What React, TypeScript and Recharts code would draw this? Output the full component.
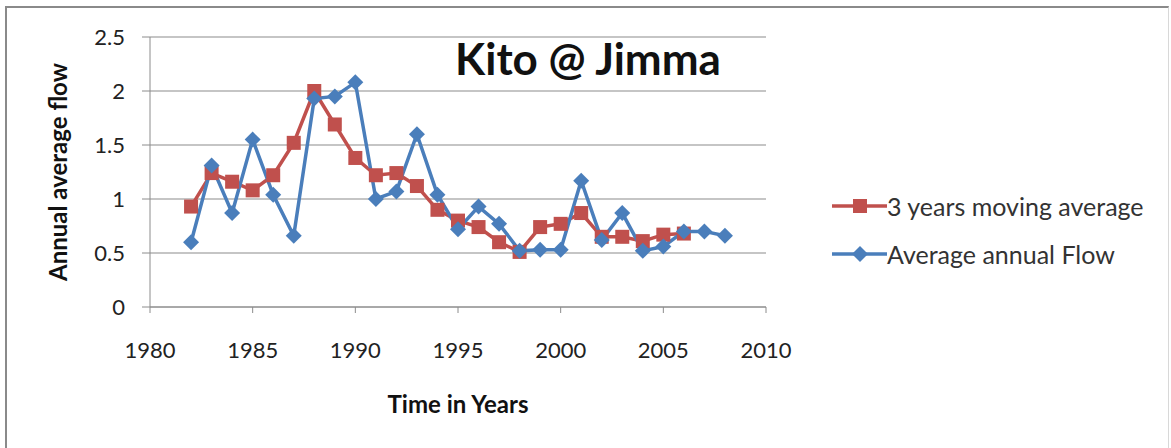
import React from "react";
import { LineChart, Line, XAxis, YAxis, CartesianGrid, Legend } from "recharts";

const years = [1982, 1983, 1984, 1985, 1986, 1987, 1988, 1989, 1990, 1991, 1992, 1993, 1994, 1995, 1996, 1997, 1998, 1999, 2000, 2001, 2002, 2003, 2004, 2005, 2006, 2007, 2008];
const averageAnnualFlow = [0.6, 1.31, 0.87, 1.55, 1.04, 0.66, 1.93, 1.95, 2.08, 1.0, 1.07, 1.6, 1.04, 0.72, 0.93, 0.77, 0.52, 0.53, 0.53, 1.17, 0.62, 0.87, 0.52, 0.56, 0.7, 0.7, 0.66];
const movingAverage = [0.93, 1.24, 1.16, 1.08, 1.22, 1.52, 2.0, 1.69, 1.38, 1.22, 1.24, 1.12, 0.9, 0.8, 0.74, 0.6, 0.51, 0.74, 0.77, 0.87, 0.65, 0.65, 0.61, 0.67, 0.68, null, null];
const xTicks = [1980, 1985, 1990, 1995, 2000, 2005, 2010];
const yTicks = [0, 0.5, 1, 1.5, 2, 2.5];

const RED = "#C0504D";
const BLUE = "#4A7EBB";
const FONT = "Lato, 'Open Sans', sans-serif";

const data = years.map((y, i) => ({
  year: y,
  flow: averageAnnualFlow[i],
  avg: movingAverage[i],
}));

const SquareDot = (props: any) => {
  const { cx, cy, payload } = props;
  if (cx == null || cy == null || payload.avg == null) return null;
  return <rect x={cx - 7} y={cy - 7} width={14} height={14} fill={RED} />;
};

const DiamondDot = (props: any) => {
  const { cx, cy } = props;
  if (cx == null || cy == null) return null;
  const r = 8;
  return (
    <polygon
      points={`${cx},${cy - r} ${cx + r},${cy} ${cx},${cy + r} ${cx - r},${cy}`}
      fill={BLUE}
    />
  );
};

const LegendContent = () => (
  <div style={{ fontFamily: FONT, fontSize: 25, color: "#333" }}>
    <div style={{ display: "flex", alignItems: "center", height: 48 }}>
      <svg width={55} height={20}>
        <line x1={0} y1={10} x2={55} y2={10} stroke={RED} strokeWidth={3.5} />
        <rect x={21} y={3} width={14} height={14} fill={RED} />
      </svg>
      <span>3 years moving average</span>
    </div>
    <div style={{ display: "flex", alignItems: "center", height: 48 }}>
      <svg width={55} height={20}>
        <line x1={0} y1={10} x2={55} y2={10} stroke={BLUE} strokeWidth={3.5} />
        <polygon points="28,2 36,10 28,18 20,10" fill={BLUE} />
      </svg>
      <span>Average annual Flow</span>
    </div>
  </div>
);

export default function App() {
  return (
    <div
      style={{
        position: "absolute",
        left: 0,
        top: 0,
        width: 1171,
        height: 448,
        overflow: "hidden",
        background: "#fff",
      }}
    >
      <div
        style={{
          position: "absolute",
          left: 5,
          top: 6,
          width: 1161,
          height: 460,
          borderTop: "2px solid #8a8a8a",
          borderLeft: "2px solid #8a8a8a",
          borderRight: "1px solid #d8d8d8",
        }}
      />
      <LineChart
        width={1171}
        height={448}
        data={data}
        margin={{ top: 37, right: 405, bottom: 0, left: 0 }}
        style={{ position: "absolute", left: 0, top: 0 }}
      >
        <CartesianGrid vertical={false} stroke="#8c8c8c" strokeWidth={1.2} />
        <XAxis
          dataKey="year"
          type="number"
          domain={[1980, 2010]}
          ticks={xTicks}
          interval={0}
          height={141}
          tickSize={6}
          tickMargin={29}
          stroke="#8c8c8c"
          tick={{ fill: "#222", fontSize: 22, fontFamily: FONT }}
          label={{
            value: "Time in Years",
            position: "insideBottom",
            offset: 35,
            style: { fontFamily: FONT, fontSize: 24, fontWeight: 700, fill: "#111" },
          }}
        />
        <YAxis
          type="number"
          domain={[0, 2.5]}
          ticks={yTicks}
          interval={0}
          width={150}
          tickSize={8}
          tickMargin={17}
          stroke="#8c8c8c"
          tick={{ fill: "#222", fontSize: 22, fontFamily: FONT }}
          label={{
            value: "Annual average flow",
            angle: -90,
            position: "insideLeft",
            offset: 58,
            style: { textAnchor: "middle", fontFamily: FONT, fontSize: 24, fontWeight: 700, fill: "#111" },
          }}
        />
        <Legend
          layout="horizontal"
          verticalAlign="middle"
          align="center"
          content={<LegendContent />}
          wrapperStyle={{ left: 832, top: 182, width: 335 }}
        />
        <Line
          dataKey="avg"
          name="3 years moving average"
          stroke={RED}
          strokeWidth={3.5}
          dot={<SquareDot />}
          activeDot={false}
          connectNulls={false}
          isAnimationActive={false}
        />
        <Line
          dataKey="flow"
          name="Average annual Flow"
          stroke={BLUE}
          strokeWidth={3.5}
          dot={<DiamondDot />}
          activeDot={false}
          isAnimationActive={false}
        />
      </LineChart>
      <div
        style={{
          position: "absolute",
          left: 438,
          top: 31,
          width: 300,
          textAlign: "center",
          fontFamily: FONT,
          fontSize: 44,
          fontWeight: 700,
          color: "#111",
          lineHeight: "54px",
          whiteSpace: "nowrap",
        }}
      >
        Kito @ Jimma
      </div>
    </div>
  );
}
